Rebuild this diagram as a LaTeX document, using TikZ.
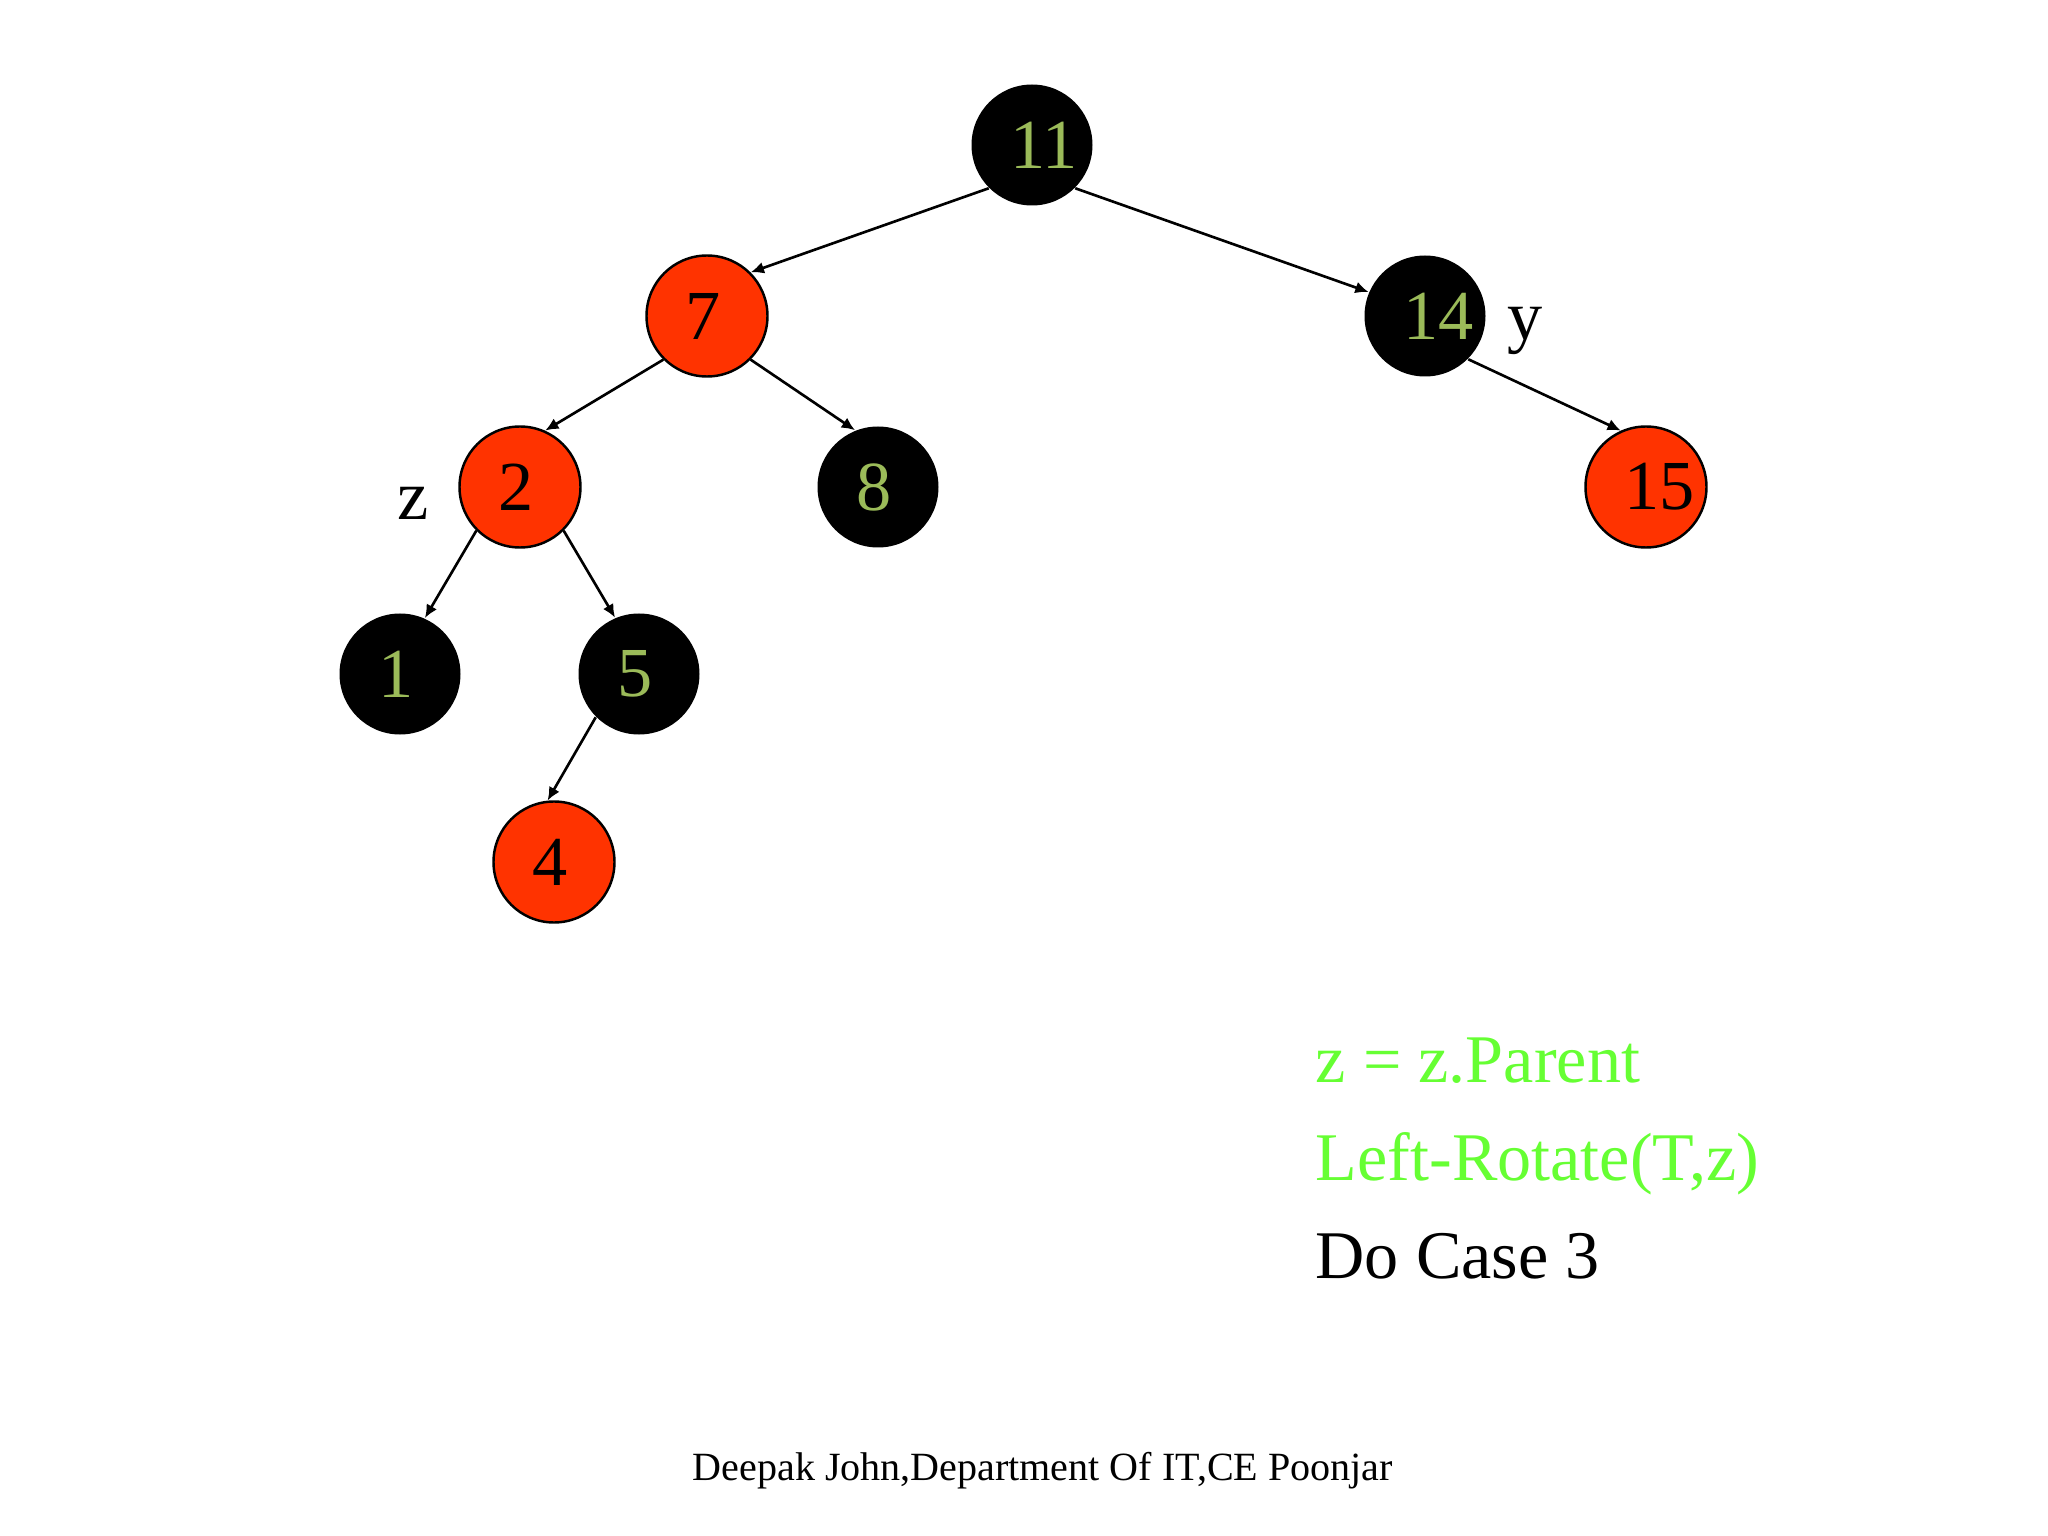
\documentclass[tikz,border=0pt]{standalone}
\usepackage{fontspec}
\setmainfont{Liberation Serif}
\usetikzlibrary{arrows.meta}
\definecolor{rbred}{RGB}{255,51,0}
\definecolor{numgreen}{RGB}{155,187,89}
\definecolor{txtgreen}{RGB}{102,255,51}
\newcommand{\nlab}[1]{\makebox[0.44cm][l]{#1}}
\tikzset{
  rbnode/.style={circle,minimum size=1.21cm,inner sep=0pt,font=\fontsize{20}{24}\selectfont},
  blk/.style={rbnode,fill=black,text=numgreen},
  rd/.style={rbnode,fill=rbred,draw=black,line width=0.7pt,text=black},
  edge/.style={line width=0.75pt,-{Latex[length=3.8pt,width=3.4pt]}},
  lbl/.style={font=\fontsize{20}{24}\selectfont,inner sep=0pt,anchor=base west},
  cmd/.style={font=\fontsize{19.4}{23}\selectfont,inner sep=0pt,anchor=base west}
}
\begin{document}
\begin{tikzpicture}
\useasboundingbox[fill=white] (0,0) rectangle (20.48,-15.36);
\node[blk] (n11) at (10.32,-1.45) {\nlab{11}};
\node[rd]  (n7)  at (7.07,-3.16) {\nlab{7}};
\node[blk] (n14) at (14.25,-3.16) {\nlab{14}};
\node[rd]  (n2)  at (5.20,-4.87) {\nlab{2}};
\node[blk] (n8)  at (8.78,-4.87) {\nlab{8}};
\node[rd]  (n15) at (16.46,-4.87) {\nlab{15}};
\node[blk] (n1)  at (4.00,-6.74) {\nlab{1}};
\node[blk] (n5)  at (6.39,-6.74) {\nlab{5}};
\node[rd]  (n4)  at (5.54,-8.62) {\nlab{4}};
\draw[edge] (n11.south west) -- (n7.45);
\draw[edge] (n11.south east) -- (n14.157);
\draw[edge] (n7.south west) -- (n2.66);
\draw[edge] (n7.south east) -- (n8.112);
\draw[edge] (n14.south east) -- (n15.114);
\draw[edge] (n2.south west) -- (n1.66);
\draw[edge] (n2.south east) -- (n5.113);
\draw[edge] (n5.south west) -- (n4.96);
\node[lbl] (zl) at (3.97,-5.20) {z};
\node[lbl] (yl) at (15.07,-3.40) {y};
\node[cmd,text=txtgreen] (c1) at (13.15,-10.82) {z = z.Parent};
\node[cmd,text=txtgreen] (c2) at (13.15,-11.80) {Left-Rotate(T,z)};
\node[cmd,text=black] (c3) at (13.15,-12.78) {Do Case 3};
\node[font=\fontsize{11.4}{14}\selectfont,inner sep=0pt,anchor=base west] (ft) at (6.92,-14.80) {Deepak John,Department Of IT,CE Poonjar};
\end{tikzpicture}
\end{document}
